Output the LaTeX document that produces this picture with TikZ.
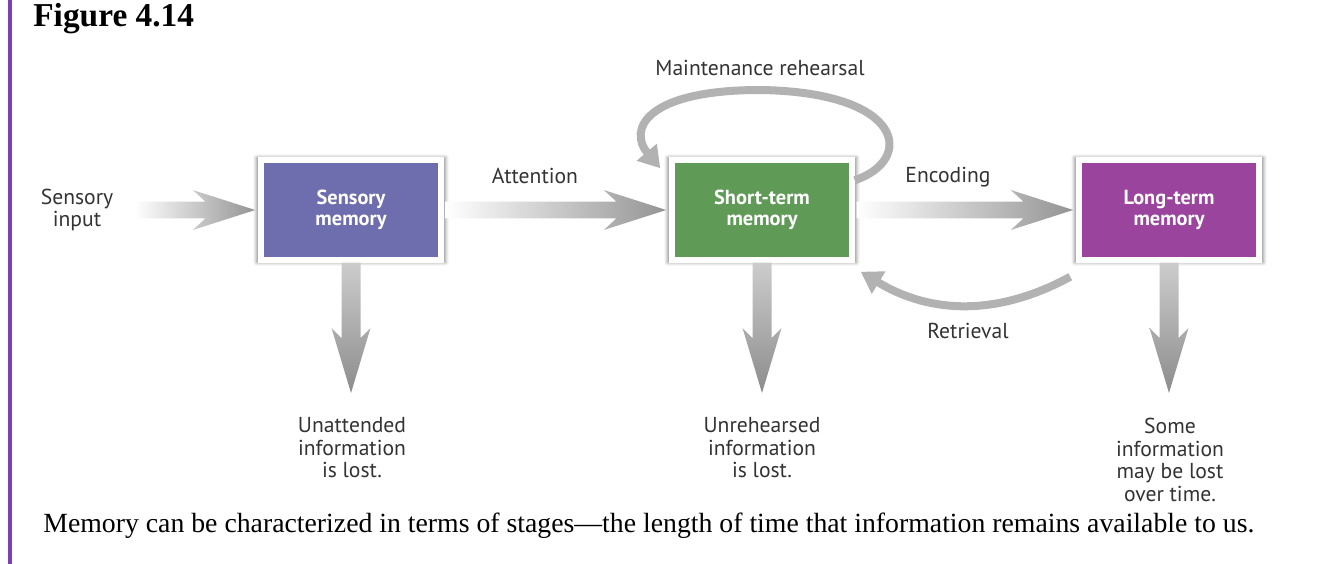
\documentclass[tikz,border=0pt]{standalone}
\usepackage{fontspec}
\setmainfont{Liberation Serif}
\setsansfont{PT Sans}
\usetikzlibrary{arrows.meta,calc,shadows.blur}

\definecolor{sensoryblue}{HTML}{6E6DAD}
\definecolor{shortgreen}{HTML}{5F9A56}
\definecolor{longpurple}{HTML}{9A449E}
\definecolor{barpurple}{HTML}{7B3FB5}
\definecolor{loopgray}{HTML}{B2B2B2}
\definecolor{labelgray}{HTML}{333333}

\tikzset{
  memorybox/.style={draw=white, line width=0.11cm, minimum width=3.6cm,
    minimum height=2.0cm, text=white, align=center,
    font=\sffamily\bfseries\fontsize{11.6}{12.2}\selectfont,
    blur shadow={shadow blur steps=6, shadow xshift=0pt, shadow yshift=0pt,
      shadow scale=1.05, shadow opacity=45}},
  flowtext/.style={text=labelgray, align=center,
    font=\sffamily\fontsize{12.3}{12.8}\selectfont},
  hflow/.style={left color=white, right color=black!42},
  vflow/.style={top color=black!20, bottom color=black!45},
  bendflow/.style={draw=loopgray, line width=0.16cm,
    -{Triangle[length=0.42cm,width=0.5cm]}}
}

% fat shaded arrows
\newcommand\fatright[2]{%
  \path[hflow] let \p1=(#1), \p2=(#2) in
    (\x1,\y1+0.17cm) -- (\x2-1.0cm,\y1+0.17cm) -- (\x2-1.25cm,\y1+0.4cm)
    -- (\x2,\y1) -- (\x2-1.25cm,\y1-0.4cm) -- (\x2-1.0cm,\y1-0.17cm)
    -- (\x1,\y1-0.17cm) -- cycle;}
\newcommand\fatdown[2]{%
  \path[vflow] let \p1=(#1), \p2=(#2) in
    (\x1-0.19cm,\y1) -- (\x1-0.19cm,\y2+1.1cm) -- (\x1-0.39cm,\y2+1.3cm)
    -- (\x1,\y2) -- (\x1+0.39cm,\y2+1.3cm) -- (\x1+0.19cm,\y2+1.1cm)
    -- (\x1+0.19cm,\y1) -- cycle;}

\begin{document}
\begin{tikzpicture}[x=0.02cm, y=-0.02cm]
  \useasboundingbox (0,0) rectangle (1319,564);
  \fill[barpurple] (8,0) rectangle (12,564);
  \node[anchor=base west, inner sep=0pt, font=\bfseries\fontsize{19}{21}\selectfont] (title) at (33,27) {Figure 4.14};

  \node[memorybox, fill=sensoryblue] (sm) at (351,210) {Sensory\\memory};
  \node[memorybox, fill=shortgreen] (stm) at (762,210) {Short-term\\memory};
  \node[memorybox, fill=longpurple] (ltm) at (1169,210) {Long-term\\memory};

  \node[flowtext] (input) at (77,210) {Sensory\\input};
  \node[flowtext] (attention) at (535,176) {Attention};
  \node[flowtext] (encoding) at (948,177) {Encoding};
  \node[flowtext] (maintenance) at (760,68) {Maintenance rehearsal};
  \node[flowtext] (retrieval) at (968,331) {Retrieval};

  \node[flowtext] (lostsm) at (352,448) {Unattended\\information\\is lost.};
  \node[flowtext] (loststm) at (762,448) {Unrehearsed\\information\\is lost.};
  \node[flowtext] (lostltm) at (1170,460) {Some\\information\\may be lost\\over time.};

  \coordinate (smtip) at (352,393);
  \coordinate (stmtip) at (762,393);
  \coordinate (ltmtip) at (1170,393);

  \fatright{[xshift=0.3cm]input.east}{[xshift=-0.06cm]sm.west}
  \fatright{[xshift=0.04cm]sm.east}{[xshift=-0.06cm]stm.west}
  \fatright{[xshift=0.04cm]stm.east}{[xshift=-0.06cm]ltm.west}

  \fatdown{sm.south}{smtip}
  \fatdown{stm.south}{stmtip}
  \fatdown{ltm.south}{ltmtip}

  \draw[bendflow] ([yshift=-0.46cm]stm.north east)
    .. controls (915,160) and (905,92) .. (760,90)
    .. controls (645,90) and (628,130) .. ([xshift=-0.18cm,yshift=-0.22cm]stm.north west);
  \draw[bendflow] ([xshift=-0.12cm,yshift=-0.28cm]ltm.south west)
    to[bend left=30] ([xshift=0.12cm,yshift=-0.18cm]stm.south east);

  \node[anchor=base west, inner sep=0pt, font=\fontsize{15.8}{18}\selectfont] (caption) at (43,532)
    {Memory can be characterized in terms of stages---the length of time that information remains available to us.};
\end{tikzpicture}
\end{document}
